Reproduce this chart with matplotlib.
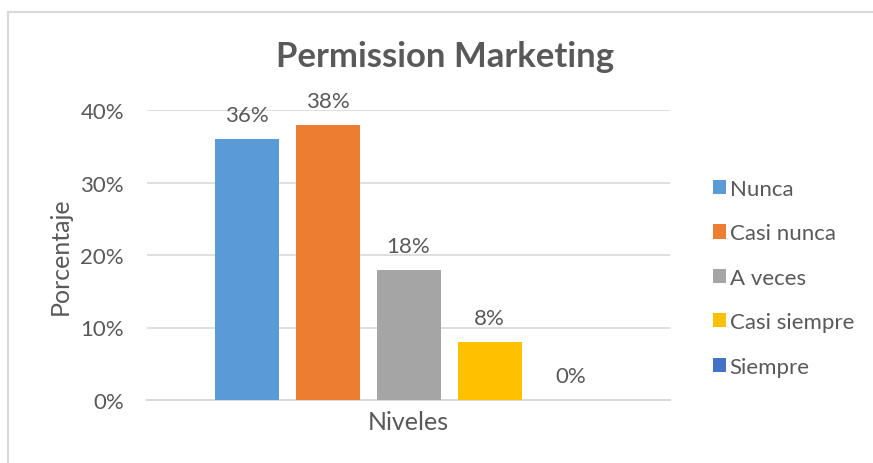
import matplotlib
matplotlib.use("Agg")
import matplotlib.pyplot as plt
from matplotlib.lines import Line2D
from matplotlib.patches import Patch

categories = ["Nunca", "Casi nunca", "A veces", "Casi siempre", "Siempre"]
values = [0.36, 0.38, 0.18, 0.08, 0.0]
labels = ["36%", "38%", "18%", "8%", "0%"]
colors = ["#5B9BD5", "#ED7D31", "#A5A5A5", "#FFC000", "#4472C4"]
yticks = [0.0, 0.1, 0.2, 0.3, 0.4]
ytick_labels = ["0%", "10%", "20%", "30%", "40%"]

plt.rcParams['font.family'] = ['Lato', 'DejaVu Sans']
W, H = 873, 464
fig = plt.figure(figsize=(W / 100, H / 100), dpi=100)
txt = "#595959"

# chart border (top and left)
fig.add_artist(Line2D([8 / W, 1], [1 - 13 / H, 1 - 13 / H], color="#D9D9D9", lw=1.5))
fig.add_artist(Line2D([8 / W, 8 / W], [0, 1 - 13 / H], color="#D9D9D9", lw=1.5))

left, right, top, bottom = 147, 670, 111, 401
ax = fig.add_axes([left / W, 1 - bottom / H, (right - left) / W, (bottom - top) / H])

bw, gap = 64, 17
n = len(values)
centers = [(i - (n - 1) / 2) * (bw + gap) for i in range(n)]
half = (right - left) / 2
ax.set_xlim(-half, half)
ax.set_ylim(0, 0.40)

ax.bar(centers, values, width=bw, color=colors, zorder=3)
for c, v, l in zip(centers, values, labels):
    ax.annotate(l, (c, v), xytext=(0, 10), textcoords="offset points",
                ha="center", va="bottom", fontsize=16, color=txt, clip_on=False)

ax.set_yticks(yticks)
ax.set_yticklabels(ytick_labels, fontsize=16, color=txt)
ax.set_xticks([])
ax.tick_params(axis="y", length=0, pad=16.5)
ax.grid(axis="y", color="#D9D9D9", lw=1.2, zorder=0)
for s in ["top", "right", "left"]:
    ax.spines[s].set_visible(False)
ax.spines["bottom"].set_color("#D9D9D9")
ax.spines["bottom"].set_linewidth(1.5)
ax.set_axisbelow(True)

fig.text(445 / W, 1 - 57 / H, "Permission Marketing", ha="center", va="center",
         fontsize=25, fontweight="bold", color=txt)
fig.text(60 / W, 1 - 256 / H, "Porcentaje", ha="center", va="center",
         rotation=90, fontsize=18, color=txt)
fig.text(408 / W, 1 - 423 / H, "Niveles", ha="center", va="center",
         fontsize=18, color=txt)

handles = [Patch(facecolor=c, edgecolor="none") for c in colors]
leg = fig.legend(handles, categories, loc="upper left",
                 bbox_to_anchor=(704 / W, 1 - 171 / H), frameon=False,
                 fontsize=16, labelcolor=txt, handlelength=0.6, handleheight=0.6,
                 handletextpad=0.15, labelspacing=1.1, borderaxespad=0)

fig.savefig("out.png", dpi=100, facecolor="white")
